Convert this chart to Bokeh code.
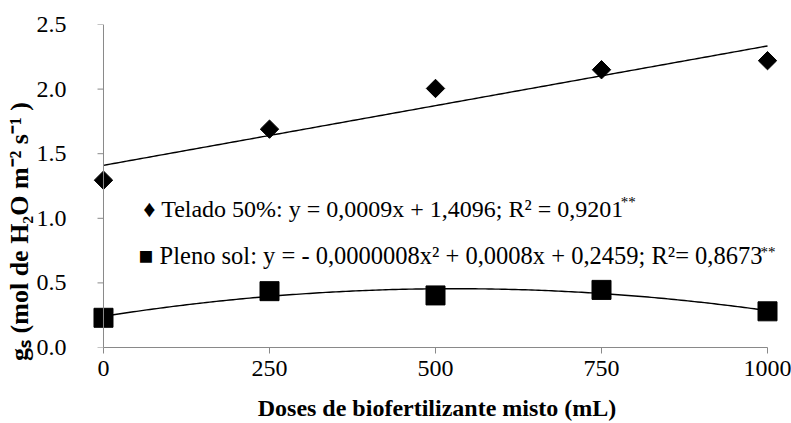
import numpy as np
from bokeh.plotting import figure
from bokeh.models import Range1d, FixedTicker, Label, Span, NumeralTickFormatter
from bokeh.embed import file_html
from bokeh.resources import INLINE

# ---- data ----
doses = [0, 250, 500, 750, 1000]
telado = [1.295, 1.69, 2.005, 2.15, 2.22]
pleno = [0.23, 0.436, 0.403, 0.446, 0.28]
x_ticks = [0, 250, 500, 750, 1000]
y_ticks = [0.0, 0.5, 1.0, 1.5, 2.0, 2.5]
telado_label = "\u2666 Telado 50%: y = 0,0009x + 1,4096; R\u00b2 = 0,9201"
pleno_label = "\u25a0  Pleno sol:  y = - 0,0000008x\u00b2 + 0,0008x + 0,2459; R\u00b2= 0,8673"
signif = "**"
x_title = "Doses de biofertilizante misto (mL)"
y_title = "g\u209b (mol de H\u2082O m\u207b\u00b2 s\u207b\u00b9 )"

FONT = "'Liberation Serif', 'Times New Roman', serif"
AXIS_COL = "#898989"

p = figure(width=791, height=423, output_backend="svg", toolbar_location=None,
           x_range=Range1d(-25.6, 1030.1), y_range=Range1d(0, 2.5),
           min_border_left=86, min_border_right=4, min_border_top=24,
           min_border_bottom=74)
p.outline_line_color = None
p.xgrid.visible = False
p.ygrid.visible = False

# fitted trend lines (from the data)
xx = np.linspace(0, 1000, 201)
c1 = np.polyfit(doses, telado, 1)
c2 = np.polyfit(doses, pleno, 2)
p.line(xx, np.polyval(c1, xx), line_color="black", line_width=1.4)
p.line(xx, np.polyval(c2, xx), line_color="black", line_width=1.4)

# vertical axis line at x = 0 and its outward tick marks
p.add_layout(Span(location=0, dimension="height", line_color=AXIS_COL, line_width=1))
p.segment(x0=[-9] * len(y_ticks), y0=y_ticks, x1=[0] * len(y_ticks), y1=y_ticks,
          line_color=AXIS_COL, line_width=1)

p.scatter(doses, telado, marker="square", angle=np.pi / 4, size=13,
          fill_color="black", line_color="black")
p.scatter(doses, pleno, marker="square", size=19,
          fill_color="black", line_color="black")

# axes
xa = p.xaxis[0]
xa.ticker = FixedTicker(ticks=x_ticks)
xa.bounds = (0, 1000)
xa.axis_label = x_title
xa.axis_label_text_font = FONT
xa.axis_label_text_font_style = "bold"
xa.axis_label_text_font_size = "24px"
xa.axis_label_text_color = "black"
xa.axis_label_standoff = 16
xa.major_tick_in = 0
xa.major_tick_out = 6
xa.major_label_standoff = 7
xa.axis_line_color = AXIS_COL
xa.major_tick_line_color = AXIS_COL

ya = p.yaxis[0]
ya.ticker = FixedTicker(ticks=y_ticks)
ya.formatter = NumeralTickFormatter(format="0.0")
ya.axis_line_color = None
ya.major_tick_line_color = None
ya.major_tick_in = 0
ya.major_tick_out = 0
ya.major_label_standoff = 20
ya.axis_label = y_title + "\u2003" * 3 + "\u2002"
ya.axis_label_text_font = FONT
ya.axis_label_text_font_style = "bold"
ya.axis_label_text_font_size = "26px"
ya.axis_label_text_color = "black"
ya.axis_label_standoff = 0

for ax in (xa, ya):
    ax.minor_tick_line_color = None
    ax.major_label_text_font = FONT
    ax.major_label_text_font_size = "24px"
    ax.major_label_text_color = "black"

p.add_layout(Label(x=60, y=1.07, text=telado_label, text_align="left",
                   text_baseline="middle", text_font=FONT, text_font_size="24px",
                   text_color="black"))
p.add_layout(Label(x=779, y=1.123, text=signif, text_align="left",
                   text_baseline="middle", text_font=FONT, text_font_size="15px",
                   text_color="black"))
p.add_layout(Label(x=53, y=0.71, text=pleno_label, text_align="left",
                   text_baseline="middle", text_font=FONT, text_font_size="24.5px",
                   text_color="black"))
p.add_layout(Label(x=989.5, y=0.738, text=signif, text_align="left",
                   text_baseline="middle", text_font=FONT, text_font_size="15px",
                   text_color="black"))

open("out.html", "w").write(file_html(p, INLINE))
